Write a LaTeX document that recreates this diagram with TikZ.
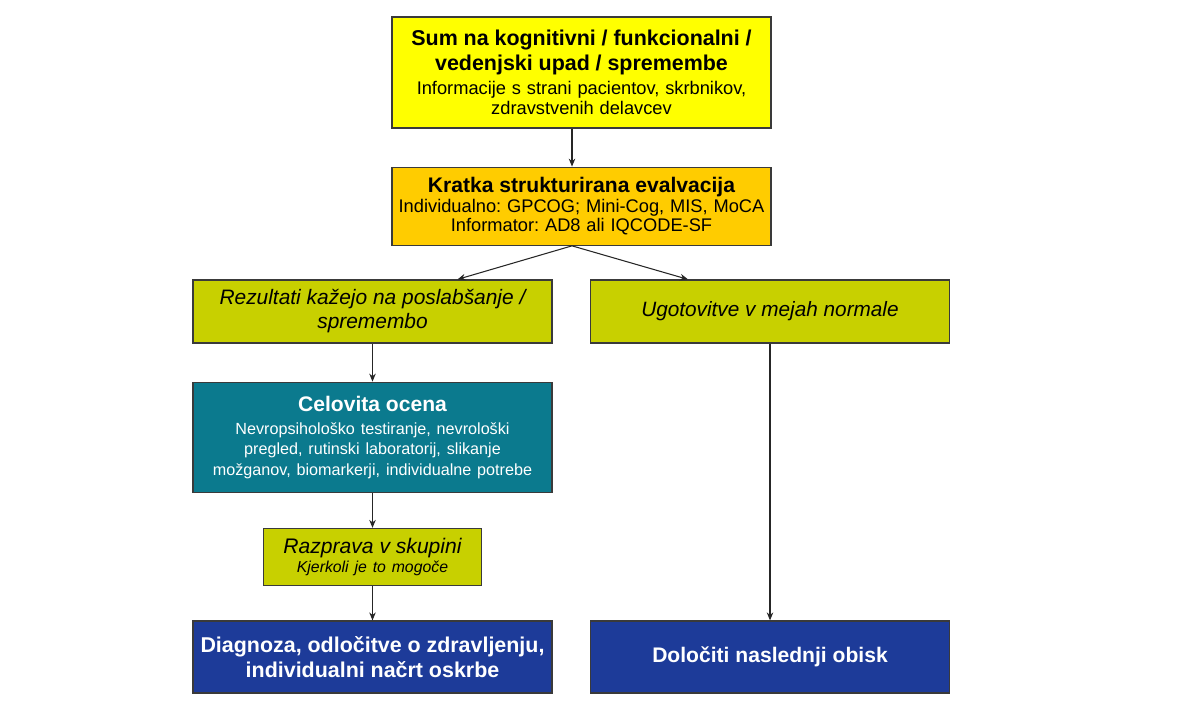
\documentclass[tikz,border=0pt]{standalone}
\usepackage{fontspec}
\setsansfont{Liberation Sans}
\frenchspacing
\usetikzlibrary{arrows.meta,positioning,calc}
\definecolor{signyellow}{HTML}{FFFF00}
\definecolor{evalgold}{HTML}{FFCC00}
\definecolor{resgreen}{HTML}{C8D000}
\definecolor{fullteal}{HTML}{0B7A8E}
\definecolor{outblue}{HTML}{1D3B99}
\definecolor{rim}{HTML}{3A3A3A}

\begin{document}
\begin{tikzpicture}[
    font=\sffamily,
    cell/.style={
        rectangle, draw=rim, line width=0.7pt,
        align=center, inner xsep=0pt, inner ysep=2pt,
        minimum width=7.18cm, text width=7.18cm,
    },
    signbox/.style={cell, fill=signyellow, minimum width=7.58cm, text width=7.58cm, minimum height=2.22cm},
    evalbox/.style={cell, fill=evalgold, minimum width=7.58cm, text width=7.58cm, minimum height=1.56cm},
    resbox/.style={cell, fill=resgreen, minimum height=1.26cm, font=\sffamily\itshape},
    fullbox/.style={cell, fill=fullteal, minimum height=2.2cm, text=white},
    talkbox/.style={cell, fill=resgreen, minimum width=4.36cm, text width=4.36cm, minimum height=1.14cm, font=\sffamily\itshape},
    outbox/.style={cell, fill=outblue, minimum height=1.44cm, text=white, font=\sffamily\bfseries},
    arrow/.style={-{Stealth[length=1.6mm,width=1.3mm]}, line width=0.6pt, draw=black!85},
]

% Background
\fill[white] (0,0) rectangle (24,-14.06);

% =============================================================
% TOP: signs and short evaluation
% =============================================================
\node[signbox] (sign) at (11.63,-1.45) {
    {\fontsize{12.2}{14.2}\selectfont\bfseries Sum na kognitivni / funkcionalni /\\ vedenjski upad / spremembe\par}
    \vspace{2pt}
    {\fontsize{10.4}{11.6}\selectfont Informacije s strani pacientov, skrbnikov,\\ zdravstvenih delavcev\par}
};

\node[evalbox, below=0.76cm of sign] (eval) {
    {\fontsize{12}{12.6}\selectfont\bfseries Kratka strukturirana evalvacija\par}
    {\fontsize{10.4}{11.2}\selectfont Individualno: GPCOG; Mini-Cog, MIS, MoCA\\ Informator: AD8 ali IQCODE-SF\par}
};

\draw[arrow] ([xshift=-1.9mm]sign.south) -- ([xshift=-1.9mm]eval.north);

% =============================================================
% LEFT COLUMN: impairment found
% =============================================================
\node[resbox] (impair) at (7.45,-6.23) {
    {\fontsize{11.9}{13.7}\selectfont Rezultati kažejo na poslabšanje /\\ spremembo\par}
};

\node[fullbox, below=0.76cm of impair] (full) {
    {\fontsize{12}{14}\selectfont\bfseries Celovita ocena\par}
    \vspace{2pt}
    {\fontsize{9.2}{11.4}\selectfont Nevropsihološko testiranje, nevrološki\\ pregled, rutinski laboratorij, slikanje\\ možganov, biomarkerji, individualne potrebe\par}
};

\node[talkbox, below=0.7cm of full] (team) {
    {\fontsize{12}{13}\selectfont Razprava v skupini\par}
    {\fontsize{9}{10.5}\selectfont Kjerkoli je to mogoče\par}
};

\node[outbox] (diag) at (7.45,-13.14) {
    {\fontsize{12.2}{14.5}\selectfont Diagnoza, odločitve o zdravljenju,\\ individualni načrt oskrbe\par}
};

% =============================================================
% RIGHT COLUMN: normal findings
% =============================================================
\node[resbox] (normal) at (15.4,-6.23) {
    {\fontsize{11.8}{13.7}\selectfont Ugotovitve v mejah normale\par}
};

\node[outbox] (visit) at (15.4,-13.14) {
    {\fontsize{12}{14}\selectfont Določiti naslednji obisk\par}
};

% Connectors
\draw[arrow] ([xshift=-1.9mm]eval.south) -- ([xshift=17mm]impair.north);
\draw[arrow] ([xshift=-1.9mm]eval.south) -- ([xshift=-16.4mm]normal.north);
\draw[arrow] (impair) -- (full);
\draw[arrow] (full) -- (team);
\draw[arrow] (team) -- (diag);
\draw[arrow] (normal) -- (visit);

\end{tikzpicture}
\end{document}
